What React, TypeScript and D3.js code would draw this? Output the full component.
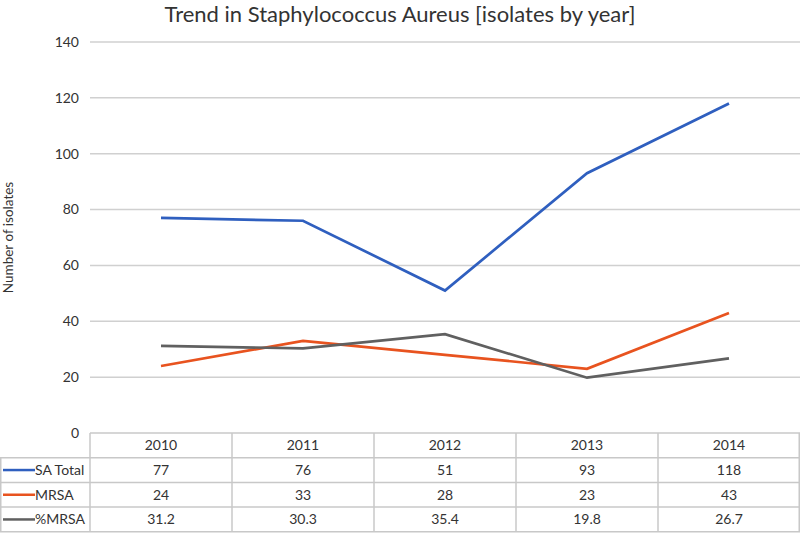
import React from "react";
import { scaleBand, scaleLinear, line } from "d3";

const width = 800;
const height = 534;
const margin = { left: 90, right: 0, top: 42, bottom: 101 };

const years = ["2010", "2011", "2012", "2013", "2014"];
const saTotal = [77, 76, 51, 93, 118];
const mrsa = [24, 33, 28, 23, 43];
const pctMrsa = [31.2, 30.3, 35.4, 19.8, 26.7];
const yTicks = [0, 20, 40, 60, 80, 100, 120, 140];

const seriesNames = ["SA Total", "MRSA", "%MRSA"];
const seriesColors = ["#2f5fbf", "#e8531f", "#606060"];
const seriesValues = [saTotal, mrsa, pctMrsa.map(String)];

const font = "Lato, 'Open Sans', sans-serif";
const rowH = 24.7;

export default function App() {
  const plotBottom = height - margin.bottom;
  const x = scaleBand().domain(years).range([margin.left, width - margin.right]);
  const y = scaleLinear().domain([0, 140]).range([plotBottom, margin.top]);
  const mid = (d: string) => (x(d) as number) + x.bandwidth() / 2;
  const path = line<number>()
    .x((_, i) => mid(years[i]))
    .y(d => y(d));
  const lines = [saTotal, mrsa, pctMrsa];
  const tableBottom = plotBottom + rowH * 4;

  return (
    <svg
      width={width}
      height={height}
      style={{ position: "absolute", left: 0, top: 0, background: "#fff" }}
    >
      <text x={400} y={22} textAnchor="middle" fontFamily={font} fontSize={22} fill="#333">
        Trend in Staphylococcus Aureus [isolates by year]
      </text>
      <text
        transform={`translate(13,${(margin.top + plotBottom) / 2}) rotate(-90)`}
        textAnchor="middle"
        fontFamily={font}
        fontSize={13.5}
        fill="#333"
      >
        Number of isolates
      </text>
      {yTicks.map(t => (
        <g key={t}>
          {t > 0 && (
            <line x1={margin.left} x2={width} y1={y(t)} y2={y(t)} stroke="#d0d0d0" strokeWidth={1.5} />
          )}
          <text x={79} y={y(t)} dy="0.35em" textAnchor="end" fontFamily={font} fontSize={14} fill="#333">
            {t}
          </text>
        </g>
      ))}
      {lines.map((s, i) => (
        <path key={i} d={path(s) as string} fill="none" stroke={seriesColors[i]} strokeWidth={2.7} />
      ))}
      {/* data table */}
      <g fontFamily={font} fontSize={14} fill="#333">
        {[0, 1, 2, 3, 4].map(r => (
          <line
            key={"h" + r}
            x1={r === 0 ? margin.left : 0}
            x2={width}
            y1={plotBottom + r * rowH}
            y2={plotBottom + r * rowH}
            stroke="#c8c8c8"
            strokeWidth={1.5}
          />
        ))}
        <line x1={0.75} x2={0.75} y1={plotBottom + rowH} y2={tableBottom} stroke="#c8c8c8" strokeWidth={1.5} />
        {years.map(yr => (
          <line
            key={"v" + yr}
            x1={x(yr)}
            x2={x(yr)}
            y1={plotBottom}
            y2={tableBottom}
            stroke="#c8c8c8"
            strokeWidth={1.5}
          />
        ))}
        <line x1={width - 0.75} x2={width - 0.75} y1={plotBottom} y2={tableBottom} stroke="#c8c8c8" strokeWidth={1.5} />
        {years.map(yr => (
          <text key={"y" + yr} x={mid(yr)} y={plotBottom + rowH / 2} dy="0.35em" textAnchor="middle">
            {yr}
          </text>
        ))}
        {seriesNames.map((name, i) => {
          const cy = plotBottom + rowH * (i + 1.5);
          return (
            <g key={name}>
              <line x1={3} x2={35} y1={cy} y2={cy} stroke={seriesColors[i]} strokeWidth={2.5} />
              <text x={35} y={cy} dy="0.35em">
                {name}
              </text>
              {years.map((yr, j) => (
                <text key={yr} x={mid(yr)} y={cy} dy="0.35em" textAnchor="middle">
                  {seriesValues[i][j]}
                </text>
              ))}
            </g>
          );
        })}
      </g>
    </svg>
  );
}
